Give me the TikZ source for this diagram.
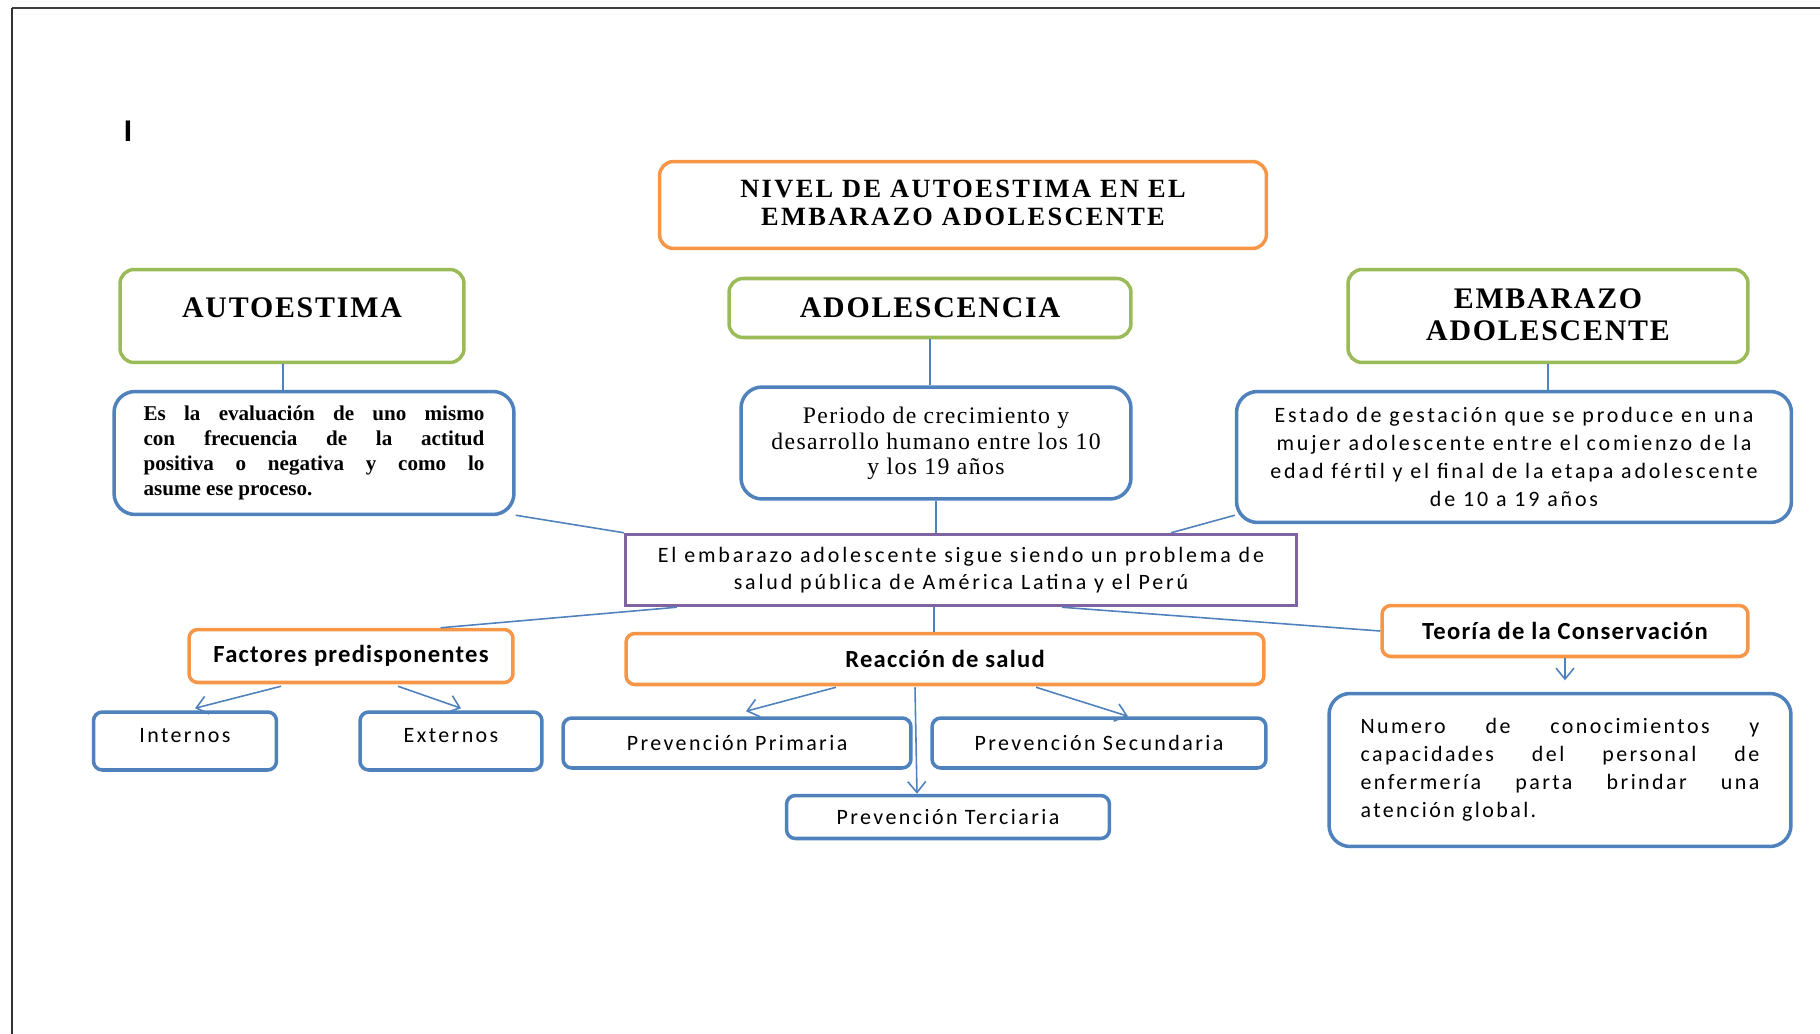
\documentclass[tikz,border=0pt]{standalone}
\usepackage{fontspec}
\setmainfont{Liberation Serif}
\newfontfamily\calbold[LetterSpace=5]{Carlito}
\newfontfamily\calspaced[LetterSpace=11]{Carlito}
\newfontfamily\calwide[LetterSpace=13]{Carlito}
\newfontfamily\serifspaced[LetterSpace=6]{Liberation Serif}
\newfontfamily\serifwide[LetterSpace=9]{Liberation Serif}
\newfontfamily\arialfont{Liberation Sans}
\usetikzlibrary{arrows.meta, calc}
\definecolor{corange}{HTML}{F79646}
\definecolor{cgreen}{HTML}{9BBB59}
\definecolor{cblue}{HTML}{4F81BD}
\definecolor{cpurple}{HTML}{8064A2}
\tikzset{
  % --- nodes ---
  titlebox/.style = {rounded corners=8pt, draw=corange, line width=2pt, align=center,
                     font=\serifwide\bfseries\fontsize{15}{16}\selectfont},
  headbox/.style  = {rounded corners=8pt, draw=cgreen, line width=2pt, align=center,
                     font=\serifspaced\bfseries\fontsize{17}{18}\selectfont},
  descbox/.style  = {rounded corners=12pt, draw=cblue, line width=2pt},
  probbox/.style  = {draw=cpurple, line width=2pt, align=center,
                     font=\calwide\fontsize{12.5}{15.2}\selectfont},
  keybox/.style   = {rounded corners=5pt, draw=corange, line width=2pt,
                     font=\calbold\bfseries\fontsize{14}{16}\selectfont},
  leafbox/.style  = {rounded corners=5pt, draw=cblue, line width=2pt,
                     font=\calspaced\fontsize{12.5}{15}\selectfont},
  % --- edges ---
  link/.style     = {draw=cblue, line width=0.9pt},
  arr/.style      = {link, -{Straight Barb[length=2.2mm, width=3.6mm]}},
  % --- page ---
  pageline/.style = {draw=black!75, line width=1.6pt},
}

\begin{document}
\begin{tikzpicture}[x=0.02cm, y=-0.02cm]
  \useasboundingbox (0,0) rectangle (1820,1034);

  % page edge
  \draw[pageline] (12,8) -- (1820,8);
  \draw[draw=black!80, line width=0.8pt] (12,8) -- (12,1034);
  \node[font=\arialfont\bfseries\fontsize{17}{17}\selectfont] (cursor) at (128,131) {I};

  % ===================================================================
  %  HEADINGS
  % ===================================================================
  \node[titlebox, minimum width=12.14cm, minimum height=1.74cm, text depth=0.08cm] (title) at (963,205)
    {NIVEL DE AUTOESTIMA EN EL\\EMBARAZO ADOLESCENTE};

  \node[headbox, minimum width=6.88cm, minimum height=1.86cm, text depth=0.32cm] (auto) at (292,316) {AUTOESTIMA};
  \node[headbox, minimum width=8.04cm, minimum height=1.18cm] (adol) at (930,308) {ADOLESCENCIA};
  \node[headbox, minimum width=8.0cm,  minimum height=1.86cm, text depth=0.06cm] (emb)  at (1548,316) {EMBARAZO\\ADOLESCENTE};

  % ===================================================================
  %  DEFINITIONS
  % ===================================================================
  \node[descbox, minimum width=8.0cm, minimum height=2.46cm, text width=194pt, align=justify,
        font=\bfseries\fontsize{12}{14.2}\selectfont] (desc1) at (314,453)
    {Es la evaluación de uno mismo\linebreak con frecuencia de la actitud\linebreak positiva o negativa y como lo\linebreak asume ese proceso.};
  \node[descbox, minimum width=7.8cm, minimum height=2.24cm, align=center, text depth=0.08cm,
        font=\serifspaced\fontsize{13.5}{14.6}\selectfont] (desc2) at (936,443)
    {Periodo de crecimiento y\\desarrollo humano entre los 10\\y los 19 años};
  \node[descbox, minimum width=11.1cm, minimum height=2.62cm, align=center,
        font=\calwide\fontsize{12.5}{16.1}\selectfont] (desc3) at (1514,457)
    {Estado de gestación que se produce en una\\mujer adolescente entre el comienzo de la\\edad fértil y el final de la etapa adolescente\\de 10 a 19 años};

  % ===================================================================
  %  CENTRAL PROBLEM + BRANCHES
  % ===================================================================
  \node[probbox, minimum width=13.42cm, minimum height=1.42cm] (prob) at (961,570)
    {El embarazo adolescente sigue siendo un problema de\\salud pública de América Latina y el Perú};

  \node[keybox, minimum width=6.48cm, minimum height=1.06cm] (fact) at (351,656) {Factores predisponentes};
  \node[keybox, minimum width=12.76cm, minimum height=1.02cm] (reac) at (945,659) {Reacción de salud};
  \node[keybox, minimum width=7.32cm, minimum height=1.02cm] (teo)  at (1565,631) {Teoría de la Conservación};

  \node[leafbox, minimum width=3.66cm, minimum height=1.16cm, text depth=0.24cm] (inter) at (185,741) {Internos};
  \node[leafbox, minimum width=3.64cm, minimum height=1.16cm, text depth=0.24cm] (exter) at (451,741) {Externos};
  \node[leafbox, minimum width=6.96cm, minimum height=1.0cm] (prim) at (737,743) {Prevención Primaria};
  \node[leafbox, minimum width=6.68cm, minimum height=1.0cm] (secu) at (1099,743) {Prevención Secundaria};
  \node[leafbox, minimum width=6.46cm, minimum height=0.86cm] (terc) at (948,817) {Prevención Terciaria};

  \node[descbox, minimum width=9.24cm, minimum height=3.06cm, text width=227pt, align=justify,
        font=\calspaced\fontsize{12.5}{15.9}\selectfont] (nume) at (1560,770)
    {Numero de conocimientos y\linebreak capacidades del personal de\linebreak enfermería parta brindar una\linebreak atención global.\par\vspace{0.42cm}};

  % ===================================================================
  %  CONNECTORS
  % ===================================================================
  \draw[link] ($(auto.south)+(-9,0)$) -- ($(auto.south |- desc1.north)+(-9,0)$);
  \draw[link] (adol.south) -- (adol.south |- desc2.north);
  \draw[link] (emb.south) -- (emb.south |- desc3.north);

  \draw[link] ($(desc1.south east)+(0,-1)$) -- (prob.north west);
  \draw[link] (desc2.south) -- (desc2.south |- prob.north);
  \draw[link] ($(desc3.south west)+(0,-9)$) -- ($(prob.north east)+(-127,0)$);

  \draw[link] ($(prob.south west)+(53,0)$) -- ($(fact.north east)+(-74,0)$);
  \draw[link] ($(prob.south)+(-27,0)$) -- ($(prob.south |- reac.north)+(-27,0)$);
  \draw[link] ($(prob.south)+(101,0)$) -- (teo.west);

  \draw[arr, shorten >=6.5pt] (teo.south) -- (teo.south |- nume.north);

  \draw[arr] ($(fact.south)+(-70,2)$) -- ($(inter.north)+(10,-2)$);
  \draw[arr] ($(fact.south)+(47,2)$)  -- ($(exter.north)+(10,-2)$);

  \draw[arr] ($(reac.south)+(-109,1)$) -- ($(prim.north)+(9,-5)$);
  \draw[arr] ($(reac.south)+(91,1)$)   -- ($(secu.north)+(29,0)$);
  \draw[arr] ($(reac.south)+(-30,1)$)  -- ($(terc.north)+(-31,0)$);

\end{tikzpicture}
\end{document}
